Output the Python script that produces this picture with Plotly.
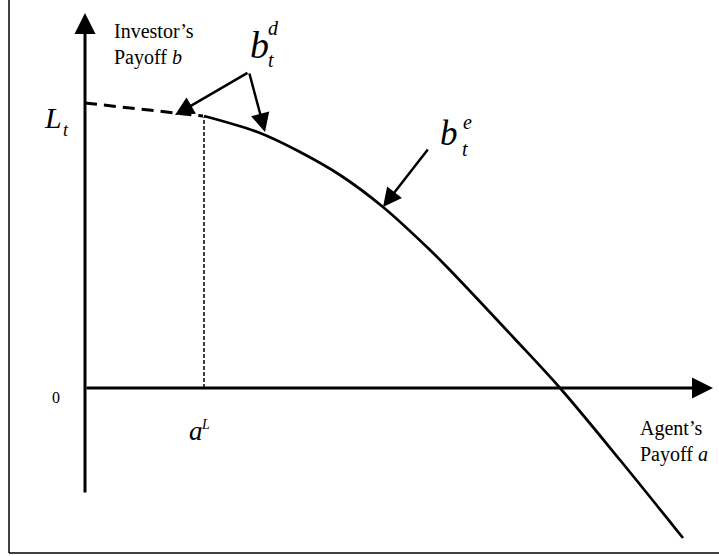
import plotly.graph_objects as go

# bargaining frontier b_t^e (agent payoff a, investor payoff b)
curve_a = [1.19, 1.75, 2.15, 2.55, 2.98, 3.45, 3.62, 4.28, 4.75, 5.35, 5.98]
curve_b = [2.72, 2.55, 2.36, 2.13, 1.81, 1.38, 1.21, 0.51, 0.0, -0.72, -1.50]

# debt segment from L_t to the start of the frontier
debt_a = [0.0, 1.18]
debt_b = [2.85, 2.72]

# a^L marker
aL = 1.19
aL_b = [0.0, 2.71]

# axis extents
x_axis = [0.0, 6.28]
y_axis = [-1.06, 3.75]
a_range = [-0.85, 6.34]
b_range = [-1.68, 3.88]

# pointer arrows: (tail a, tail b, head a, head b)
pointers = [
    (1.64, 3.16, 0.90, 2.73),
    (1.64, 3.16, 1.80, 2.56),
    (3.44, 2.40, 2.98, 1.81),
]

# labels: (text, a, b, size, italic)
labels = [
    ("b", 1.745, 3.43, 38, True),
    ("t", 1.86, 3.28, 20, True),
    ("d", 1.88, 3.60, 20, True),
    ("b", 3.64, 2.545, 35, True),
    ("t", 3.80, 2.39, 20, True),
    ("e", 3.82, 2.66, 20, True),
    ("L", -0.32, 2.71, 30, True),
    ("t", -0.19, 2.58, 18, True),
    ("0", -0.29, -0.09, 16, False),
    ("a", 1.11, -0.43, 27, True),
    ("L", 1.20, -0.36, 14, True),
]

axis_titles = [
    ("Investor’s<br>Payoff <i>b</i>", 0.27, 3.44),
    ("Agent’s<br>Payoff <i>a</i>", 5.53, -0.53),
]

FONT = "Liberation Serif, Times New Roman, serif"

fig = go.Figure()

fig.add_trace(go.Scatter(x=curve_a, y=curve_b, mode="lines", line=dict(color="black", width=2.7, shape="spline", smoothing=1.0), hoverinfo="skip"))
fig.add_trace(go.Scatter(x=debt_a, y=debt_b, mode="lines", line=dict(color="black", width=3, dash="12px,7px"), hoverinfo="skip"))
fig.add_trace(go.Scatter(x=[aL, aL], y=aL_b, mode="lines", line=dict(color="black", width=1.5, dash="4px,2px"), hoverinfo="skip"))

annotations = []

# axes with arrowheads
annotations.append(dict(x=x_axis[1], y=0, ax=x_axis[0], ay=0, axref="x", ayref="y", text="", showarrow=True,
                        arrowhead=2, arrowsize=1.4, arrowwidth=3, arrowcolor="black"))
annotations.append(dict(x=0, y=y_axis[1], ax=0, ay=y_axis[0], axref="x", ayref="y", text="", showarrow=True,
                        arrowhead=2, arrowsize=1.4, arrowwidth=3, arrowcolor="black"))

for ta, tb, ha, hb in pointers:
    annotations.append(dict(x=ha, y=hb, ax=ta, ay=tb, axref="x", ayref="y", text="", showarrow=True,
                            arrowhead=2, arrowsize=1.5, arrowwidth=2.5, arrowcolor="black"))

for txt, a, b, size, italic in labels:
    annotations.append(dict(x=a, y=b, text=f"<i>{txt}</i>" if italic else txt, showarrow=False,
                            xanchor="center", yanchor="middle", font=dict(family=FONT, size=size, color="black")))

for txt, a, b in axis_titles:
    annotations.append(dict(x=a, y=b, text=txt, showarrow=False, align="left",
                            xanchor="left", yanchor="middle", font=dict(family=FONT, size=20, color="black")))

# frame around the picture (left and bottom edges visible)
shapes = [
    dict(type="line", xref="paper", yref="paper", x0=9 / 719, x1=9 / 719, y0=3 / 556, y1=1.0, line=dict(color="black", width=1.5)),
    dict(type="line", xref="paper", yref="paper", x0=9 / 719, x1=1.0, y0=3 / 556, y1=3 / 556, line=dict(color="black", width=1.5)),
]

fig.update_layout(
    width=719, height=556,
    margin=dict(l=0, r=0, t=0, b=0),
    showlegend=False,
    plot_bgcolor="white", paper_bgcolor="white",
    xaxis=dict(range=a_range, visible=False),
    yaxis=dict(range=b_range, visible=False),
    annotations=annotations,
    shapes=shapes,
)

fig.write_html("out.html", config={"displayModeBar": False},
               post_script="document.body.style.margin='0';document.body.style.overflow='hidden';")
